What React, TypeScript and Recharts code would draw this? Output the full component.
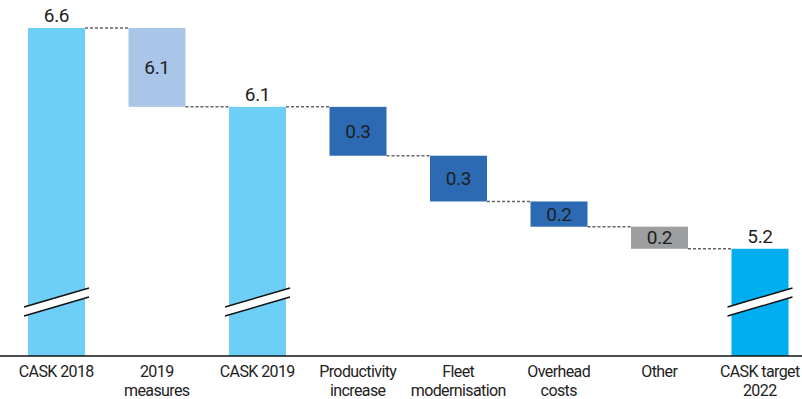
import { Bar, BarChart, Cell, LabelList, XAxis, YAxis } from "recharts";

const categories = [
  "CASK 2018",
  "2019\nmeasures",
  "CASK 2019",
  "Productivity\nincrease",
  "Fleet\nmodernisation",
  "Overhead\ncosts",
  "Other",
  "CASK target\n2022",
];
const kinds = ["total", "measure", "total", "decrease", "decrease", "decrease", "other", "target"];
// totals are drawn from the axis floor, changes float off the running level
const totals = [6.6, null, 6.1, null, null, null, null, 5.2];
const changes = [null, 0.5, null, 0.31, 0.29, 0.16, 0.14, null];
const valueLabels = ["6.6", "6.1", "6.1", "0.3", "0.3", "0.2", "0.2", "5.2"];

const AXIS_MIN = 4.52;
const AXIS_MAX = 6.6;
const CHART_W = 810;
const PAD_LEFT = 6;
const BAND = (CHART_W - PAD_LEFT) / categories.length;
const FONT = 'Roboto, "DejaVu Sans Condensed", sans-serif';

const colors: Record<string, string> = {
  total: "#6dcff6",
  measure: "#a9c5e8",
  decrease: "#2c6ab4",
  other: "#9c9e9f",
  target: "#00aeef",
};

let level = 0;
const rows = categories.map((name, i) => {
  let range: [number, number];
  if (totals[i] != null) {
    level = totals[i] as number;
    range = [AXIS_MIN, level];
  } else {
    const next = level - (changes[i] as number);
    range = [next, level];
    level = next;
  }
  return { name, kind: kinds[i], range, label: valueLabels[i] };
});

function StepBar(props: any) {
  const { x, width, fill, index } = props;
  const top = Math.min(props.y, props.y + props.height);
  const h = Math.abs(props.height);
  const bottom = top + h;
  const isTotal = totals[index] != null;
  const endY = isTotal ? top : bottom;
  const last = index === rows.length - 1;
  return (
    <g>
      <rect x={x} y={top} width={width} height={h} fill={fill} />
      {isTotal && (
        <g>
          <polygon
            points={`${x - 4},${bottom - 40} ${x + width + 4},${bottom - 59} ${x + width + 4},${bottom - 68} ${x - 4},${bottom - 49}`}
            fill="#fff"
          />
          <line x1={x - 4} y1={bottom - 40} x2={x + width + 4} y2={bottom - 59} stroke="#111" strokeWidth={1.4} />
          <line x1={x - 4} y1={bottom - 49} x2={x + width + 4} y2={bottom - 68} stroke="#111" strokeWidth={1.4} />
        </g>
      )}
      {!last && (
        <line
          x1={x + width}
          y1={endY}
          x2={x + BAND}
          y2={endY}
          stroke="#666"
          strokeWidth={1.5}
          strokeDasharray="3 2"
        />
      )}
    </g>
  );
}

function ValueLabel(props: any) {
  const { x, width, index, value } = props;
  const top = Math.min(props.y, props.y + props.height);
  const h = Math.abs(props.height);
  const isTotal = totals[index] != null;
  return (
    <text
      x={x + width / 2}
      y={isTotal ? top - 6 : top + h / 2}
      textAnchor="middle"
      dominantBaseline={isTotal ? "auto" : "central"}
      fontFamily={FONT}
      fontSize={19}
      letterSpacing={-0.3}
      fill="#1e1e1e"
    >
      {value}
    </text>
  );
}

function CategoryTick({ x, y, payload }: any) {
  const lines = String(payload.value).split("\n");
  return (
    <text
      x={x}
      y={y}
      textAnchor="middle"
      fontFamily={FONT}
      fontSize={16}
      letterSpacing={-0.6}
      fill="#222"
    >
      {lines.map((l, i) => (
        <tspan key={i} x={x} dy={i === 0 ? 21 : 19}>
          {l}
        </tspan>
      ))}
    </text>
  );
}

export default function App() {
  return (
    <div
      style={{
        position: "absolute",
        left: 0,
        top: 0,
        width: 802,
        height: 399,
        overflow: "hidden",
        background: "#fff",
      }}
    >
      <BarChart
        width={CHART_W}
        height={399}
        data={rows}
        margin={{ top: 28, right: 0, bottom: 0, left: 0 }}
      >
        <XAxis
          dataKey="name"
          height={43}
          interval={0}
          padding={{ left: PAD_LEFT, right: 0 }}
          tickLine={false}
          tickSize={0}
          tickMargin={0}
          axisLine={{ stroke: "#111", strokeWidth: 1.5 }}
          tick={<CategoryTick />}
        />
        <YAxis hide domain={[AXIS_MIN, AXIS_MAX]} />
        <Bar dataKey="range" barSize={57} shape={<StepBar />} isAnimationActive={false}>
          {rows.map((r, i) => (
            <Cell key={i} fill={colors[r.kind]} />
          ))}
          <LabelList dataKey="label" content={<ValueLabel />} />
        </Bar>
      </BarChart>
    </div>
  );
}
